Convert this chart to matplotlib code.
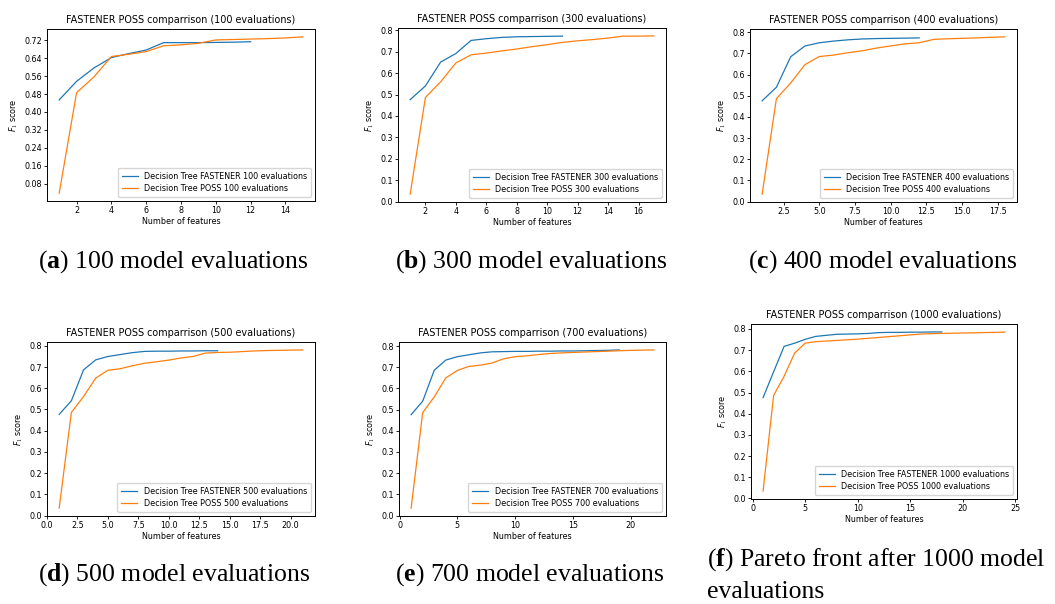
import matplotlib

matplotlib.use("Agg")
import matplotlib.pyplot as plt  # noqa: E402
from matplotlib.ticker import MultipleLocator  # noqa: E402

# --- data ---------------------------------------------------------------
evals = [100, 300, 400, 500, 700, 1000]

fastener_100 = [0.454, 0.537, 0.597, 0.643, 0.661, 0.677, 0.710, 0.710, 0.710, 0.711, 0.712, 0.714]
poss_100 = [0.037, 0.486, 0.557, 0.648, 0.658, 0.670, 0.696, 0.700, 0.707, 0.722, 0.724, 0.726,
            0.728, 0.731, 0.736]

fastener_300 = [0.476, 0.540, 0.651, 0.691, 0.752, 0.760, 0.766, 0.769, 0.770, 0.771, 0.772]
poss_300 = [0.036, 0.486, 0.559, 0.647, 0.685, 0.693, 0.703, 0.712, 0.723, 0.732, 0.743, 0.750,
            0.756, 0.763, 0.772, 0.772, 0.773]

fastener_400 = [0.476, 0.540, 0.684, 0.735, 0.750, 0.758, 0.764, 0.768, 0.770, 0.771, 0.772, 0.773]
poss_400 = [0.035, 0.486, 0.560, 0.647, 0.685, 0.692, 0.703, 0.712, 0.725, 0.735, 0.745, 0.750,
            0.766, 0.769, 0.771, 0.773, 0.776, 0.778]

fastener_500 = [0.477, 0.541, 0.687, 0.734, 0.750, 0.759, 0.768, 0.774, 0.775, 0.775, 0.776, 0.776,
                0.777, 0.777]
poss_500 = [0.035, 0.486, 0.561, 0.648, 0.685, 0.692, 0.706, 0.718, 0.725, 0.733, 0.743, 0.750,
            0.766, 0.769, 0.770, 0.773, 0.776, 0.778, 0.779, 0.780, 0.781]

fastener_700 = [0.476, 0.540, 0.686, 0.734, 0.750, 0.759, 0.768, 0.773, 0.774, 0.775, 0.775, 0.776,
                0.776, 0.777, 0.777, 0.778, 0.779, 0.780, 0.782]
poss_700 = [0.035, 0.486, 0.560, 0.650, 0.685, 0.704, 0.710, 0.720, 0.740, 0.750, 0.754, 0.760,
            0.765, 0.768, 0.770, 0.772, 0.774, 0.776, 0.778, 0.780, 0.781, 0.782]

fastener_1000 = [0.476, 0.598, 0.718, 0.733, 0.751, 0.765, 0.770, 0.775, 0.776, 0.777, 0.779, 0.783,
                 0.784, 0.784, 0.785, 0.785, 0.786, 0.786]
poss_1000 = [0.035, 0.486, 0.577, 0.686, 0.733, 0.740, 0.743, 0.746, 0.749, 0.752, 0.756, 0.760,
             0.764, 0.768, 0.772, 0.776, 0.778, 0.779, 0.780, 0.781, 0.782, 0.783, 0.784, 0.785]

fastener = [fastener_100, fastener_300, fastener_400, fastener_500, fastener_700, fastener_1000]
poss = [poss_100, poss_300, poss_400, poss_500, poss_700, poss_1000]

captions = [
    ("a", ["100 model evaluations"]),
    ("b", ["300 model evaluations"]),
    ("c", ["400 model evaluations"]),
    ("d", ["500 model evaluations"]),
    ("e", ["700 model evaluations"]),
    ("f", ["Pareto front after 1000 model", "evaluations"]),
]

# --- layout (pixels of the 1055x604 canvas) ------------------------------
W, H = 1055, 604
# left, right, top, bottom of each axes frame
boxes = [
    (47, 315, 29, 201),
    (398, 666, 28, 202),
    (750, 1017, 29, 202),
    (47, 315, 342, 516),
    (399, 666, 342, 516),
    (751, 1017, 324, 499),
]
xsteps = [2, 2, 2.5, 2.5, 5, 5]
caption_pos = [(38, 262), (395, 262), (748, 262), (38, 575), (395, 575), (707, 560)]
caption_gap = 32

plt.rcParams["font.family"] = "DejaVu Sans"
plt.rcParams["mathtext.fontset"] = "custom"
plt.rcParams["mathtext.it"] = "DejaVu Sans:italic"
plt.rcParams["mathtext.rm"] = "Liberation Serif"
plt.rcParams["mathtext.bf"] = "Liberation Serif:bold"

fig = plt.figure(figsize=(W / 100, H / 100), dpi=100)

for i, n in enumerate(evals):
    l, r, t, b = boxes[i]
    ax = fig.add_axes([l / W, 1 - b / H, (r - l) / W, (b - t) / H])
    xf = list(range(1, len(fastener[i]) + 1))
    xp = list(range(1, len(poss[i]) + 1))
    ax.plot(xf, fastener[i], color="#1f77b4", lw=0.9,
            label=f"Decision Tree FASTENER {n} evaluations")
    ax.plot(xp, poss[i], color="#ff7f0e", lw=0.9,
            label=f"Decision Tree POSS {n} evaluations")
    ax.xaxis.set_major_locator(MultipleLocator(xsteps[i]))
    if i == 0:
        ax.yaxis.set_major_locator(MultipleLocator(0.08))
    else:
        ax.yaxis.set_major_locator(MultipleLocator(0.1))
    if i == 3:
        ax.set_xlim(0, 22)
    ax.set_title(f"FASTENER POSS comparrison ({n} evaluations)", fontsize=6.9, pad=4)
    ax.set_xlabel("Number of features", fontsize=5.8, labelpad=1.5)
    ax.set_ylabel("$F_1$ score", fontsize=5.8, labelpad=3)
    ax.tick_params(labelsize=5.8, length=2.2, width=0.6, pad=1.5)
    for s in ax.spines.values():
        s.set_linewidth(0.7)
    ax.legend(loc="lower right", fontsize=5.75, handlelength=2.0, borderpad=0.5,
              labelspacing=0.4, framealpha=0.8, edgecolor="#cccccc")

    letter, lines = captions[i]
    cx, cy = caption_pos[i]
    for k, line in enumerate(lines):
        txt = ("($\\mathbf{" + letter + "}$) " + line) if k == 0 else line
        fig.text(cx / W, 1 - (cy + k * caption_gap) / H, txt,
                 family="Liberation Serif", fontsize=18.5, va="center", ha="left")

fig.savefig("out.png", dpi=100)
